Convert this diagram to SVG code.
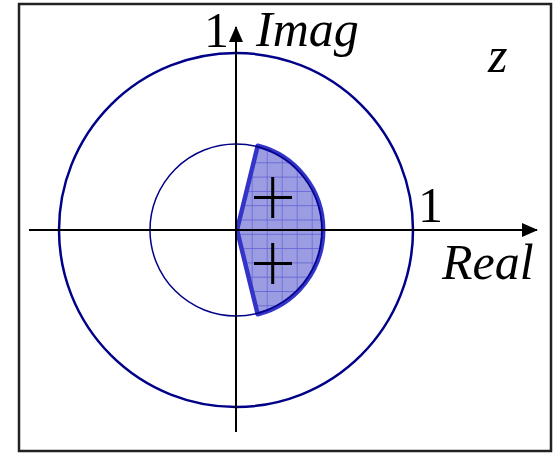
<svg xmlns="http://www.w3.org/2000/svg" width="556" height="454" viewBox="0 0 556 454">
<style>
.t{font-size:50px;fill:#000}
.i{font-style:italic}
.ax{stroke:#000;stroke-width:2;fill:none}
.plus{stroke:#000;stroke-width:3;fill:none}
</style>
<defs>
<pattern id="grid" patternUnits="userSpaceOnUse" x="11.7" y="5" width="15" height="14.3">
<rect width="15" height="14.3" fill="#9c9ce2"/>
<path d="M0,0V14.3M0,0H15" stroke="#5a5ad2" stroke-width="1.2"/>
</pattern>
<marker id="arr" markerWidth="16" markerHeight="14" refX="15" refY="7" orient="auto" markerUnits="userSpaceOnUse">
<path d="M0,0L16,7L0,14Z" fill="#000"/>
</marker>
</defs>
<rect x="0" y="0" width="556" height="454" fill="#fff"/>
<rect x="19" y="4" width="532" height="447" fill="none" stroke="#222" stroke-width="2.5"/>
<g id="region">
<path d="M237,230 L257.7,145.7 A87,87 0 0 1 257.7,314.3 Z" fill="url(#grid)" stroke="#3434c8" stroke-width="4.5" stroke-linejoin="round"/>
</g>
<g id="circles">
<circle id="unit-circle" cx="236" cy="230" r="177" fill="none" stroke="#000088" stroke-width="2.5"/>
<circle id="inner-circle" cx="236" cy="230" r="86" fill="none" stroke="#000088" stroke-width="1.5"/>
</g>
<g id="connectors">
<line class="ax" x1="29" y1="230" x2="537" y2="230" marker-end="url(#arr)"/>
<line class="ax" x1="236" y1="432" x2="236" y2="27" marker-end="url(#arr)"/>
</g>
<g id="poles">
<path class="plus" d="M254,197.5H292M272.7,177V218"/>
<path class="plus" d="M254,263.5H292M272.7,243V284"/>
</g>
<g id="labels" font-family="Liberation Serif, Times New Roman, serif">
<text class="t" x="204" y="47">1</text>
<text class="t i" x="256" y="46" font-size="52">Imag</text>
<text class="t i" x="488" y="72" font-size="48">z</text>
<text class="t" x="418" y="222">1</text>
<text class="t i" x="442" y="279" font-size="49">Real</text>
</g>
</svg>
